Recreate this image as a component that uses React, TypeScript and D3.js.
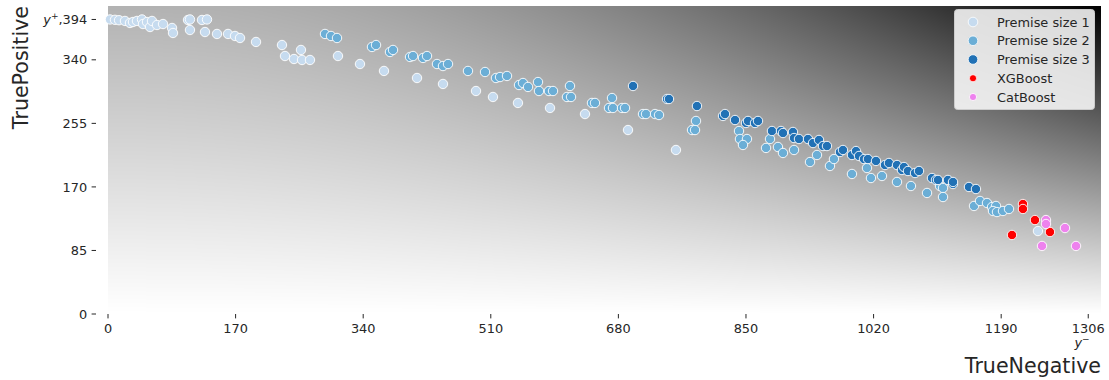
import React, { useMemo } from "react";
import * as d3 from "d3";

// ---- data (TrueNegative, TruePositive) ----
const size1TN = [2.7, 9.3, 14.7, 22.6, 29.3, 33.3, 38.6, 45.3, 46.6, 52, 56, 58.6, 65.3, 73.3, 85.3, 86.6, 106.6, 109.2, 109.2, 125.2, 131.9, 129.2, 145.2, 159.9, 169.2, 175.9, 197.2, 231.8, 235.8, 247.8, 257.1, 258.5, 269.1, 306.4, 335.7, 367.7, 411.7, 446.3, 490.3, 512.9, 546.2, 588.9, 635.5, 692.8, 756.7, 1239];
const size1TP = [394, 393.5, 393, 392, 389.3, 390.6, 392, 394, 387.9, 390.6, 383.9, 392, 386.6, 387.9, 382.6, 375.9, 393.3, 394, 379.9, 393.3, 394, 377.2, 374.6, 374.6, 371.9, 369.2, 363.9, 359.8, 345.1, 341.1, 353.2, 339.8, 339.8, 345.1, 334.4, 325.1, 315.7, 307.7, 298.3, 290.3, 282.3, 275.6, 267.5, 246.1, 219.4, 111];

const size2TN = [289.1, 297.1, 305.1, 351.7, 357.1, 375.7, 379.7, 402.4, 406.4, 419.7, 425, 438.3, 446.3, 453, 479.6, 502.3, 516.9, 522.3, 531.6, 547.6, 552.9, 559.6, 572.9, 574.2, 587.5, 592.9, 611.5, 616.9, 615.5, 644.8, 648.8, 671.5, 667.5, 672.8, 684.8, 688.8, 712.8, 716.8, 728.8, 734.1, 783.4, 778.1, 782.1, 840.7, 842, 851.3, 846, 882, 876.7, 892.6, 899.3, 914, 935.3, 944.6, 961.9, 967.2, 991.2, 1011.2, 1016.5, 1031.2, 1051.2, 1069.8, 1091.2, 1108.5, 1112.5, 1112.5, 1153.8, 1161.8, 1171.1, 1177.8, 1183.1, 1179.1, 1184.4, 1192.4, 1200.4];
const size2TP = [374.6, 371.9, 369.2, 357.2, 359.8, 350.5, 353.2, 343.8, 345.1, 342.5, 345.1, 334.4, 331.7, 334.4, 325.1, 323.7, 315.7, 317, 318.4, 306.3, 309, 303.7, 310.3, 298.3, 298.3, 298.3, 290.3, 290.3, 305, 282.3, 282.3, 288.9, 275.6, 275.6, 275.6, 275.6, 267.5, 267.5, 267.5, 266.2, 258.2, 246.1, 246.1, 244.8, 234.1, 234.1, 226.1, 234.1, 222.1, 223.4, 215.4, 219.4, 203.3, 212.7, 198, 207.3, 187.3, 195.3, 181.9, 184.6, 176.6, 171.2, 161.9, 171.2, 168.6, 156.5, 144.5, 151.2, 148.5, 143.1, 144.5, 137.8, 136.4, 137.8, 140.5];

const size3TN = [699.5, 744.8, 747.4, 784.7, 819.4, 822, 835.4, 850, 852.7, 862, 866, 884.6, 896.6, 899.3, 912.6, 914, 920.6, 932.6, 939.3, 947.3, 952.6, 957.9, 975.2, 979.2, 991.2, 996.6, 1000.6, 1007.2, 1012.5, 1023.2, 1035.2, 1040.5, 1051.2, 1057.8, 1060.5, 1065.8, 1075.2, 1080.5, 1097.8, 1103.1, 1105.8, 1119.1, 1125.8, 1125.8, 1147.1, 1156.4];
const size3TP = [305, 287.6, 287.6, 278.2, 264.9, 267.5, 259.5, 255.5, 258.2, 255.5, 258.2, 244.8, 244.8, 242.1, 243.5, 235.4, 234.1, 234.1, 228.7, 232.8, 224.7, 224.7, 216.7, 219.4, 212.7, 218, 211.4, 207.3, 207.3, 204.7, 199.3, 202, 199.3, 192.6, 196.6, 191.3, 188.6, 191.3, 181.9, 179.3, 179.3, 179.3, 173.9, 176.6, 169.9, 167.2];

const xgbTN = [1219, 1219, 1235, 1255, 1204.4];
const xgbTP = [147.1, 140.5, 125.7, 109.7, 105.7];

const catTN = [1249.7, 1249.7, 1275, 1244.4, 1289.7];
const catTP = [125.7, 120.4, 115, 91, 91];

const xTicks = [0, 170, 340, 510, 680, 850, 1020, 1190, 1306];
const yTicks = [0, 85, 170, 255, 340, 394];
const seriesNames = ["Premise size 1", "Premise size 2", "Premise size 3", "XGBoost", "CatBoost"];
const seriesColors = ["#c6dbef", "#6baed6", "#2171b5", "#ff0000", "#ee82ee"];

const W = 1109, H = 380;
const PL = 108, PR = 1101, PT = 6, PB = 314;
const FONT = "DejaVu Sans, sans-serif";
const TF = 12.9;

export default function App() {
  const x = d3.scaleLinear().domain([0, 1323]).range([PL, PR]);
  const y = d3.scaleLinear().domain([0, 412]).range([PB, PT]);

  const bg = useMemo(() => {
    const w = PR - PL, h = PB - PT;
    const c = document.createElement("canvas");
    c.width = w; c.height = h;
    const ctx = c.getContext("2d");
    if (!ctx) return "";
    const img = ctx.createImageData(w, h);
    for (let j = 0; j < h; j++) {
      const yf = 1 - j / (h - 1);
      for (let i = 0; i < w; i++) {
        const xf = i / (w - 1);
        const dark = yf * (0.3 + 0.7 * xf * xf);
        const v = Math.round(255 * (1 - dark));
        const k = (j * w + i) * 4;
        img.data[k] = v; img.data[k + 1] = v; img.data[k + 2] = v; img.data[k + 3] = 255;
      }
    }
    ctx.putImageData(img, 0, 0);
    return c.toDataURL();
  }, []);

  const series = [
    { tn: size1TN, tp: size1TP },
    { tn: size2TN, tp: size2TP },
    { tn: size3TN, tp: size3TP },
    { tn: xgbTN, tp: xgbTP },
    { tn: catTN, tp: catTP },
  ];

  return (
    <svg width={W} height={H} style={{ position: "absolute", left: 0, top: 0, background: "#fff" }} fontFamily={FONT}>
      {bg && <image href={bg} x={PL} y={PT} width={PR - PL} height={PB - PT} preserveAspectRatio="none" />}
      {series.map((s, si) => (
        <g key={si}>
          {s.tn.map((tn, i) => (
            <circle key={i} cx={x(tn)} cy={y(s.tp[i])} r={4.7} fill={seriesColors[si]} stroke="#fff" strokeWidth={0.9} />
          ))}
        </g>
      ))}
      {/* y axis */}
      <g>
        {yTicks.map((t) => (
          <g key={t}>
            <line x1={91.6} x2={96} y1={y(t)} y2={y(t)} stroke="#262626" strokeWidth={1} />
            {t === 394 ? (
              <text x={87.2} y={y(t) + 4.6} textAnchor="end" fontSize={TF} fill="#262626">
                <tspan fontStyle="italic">y</tspan>
                <tspan dy={-5} fontSize={9}>+</tspan>
                <tspan dy={5}>,394</tspan>
              </text>
            ) : (
              <text x={87.2} y={y(t) + 4.6} textAnchor="end" fontSize={TF} fill="#262626">{t}</text>
            )}
          </g>
        ))}
      </g>
      {/* x axis */}
      <g>
        {xTicks.map((t) => (
          <g key={t}>
            <line x1={x(t)} x2={x(t)} y1={PB} y2={PB + 4.4} stroke="#262626" strokeWidth={1} />
            <text x={x(t)} y={332.5} textAnchor="middle" fontSize={TF} fill="#262626">{t}</text>
          </g>
        ))}
        <text x={1082} y={347} textAnchor="middle" fontSize={TF} fill="#262626">
          <tspan fontStyle="italic">y</tspan>
          <tspan dy={-5} fontSize={9}>−</tspan>
        </text>
      </g>
      <text x={PR} y={373} textAnchor="end" fontSize={20.6} fill="#262626">TrueNegative</text>
      <text transform="translate(28.3,6) rotate(-90)" textAnchor="end" fontSize={20.6} fill="#262626">TruePositive</text>
      {/* legend */}
      <g>
        <rect x={954.5} y={9.5} width={140} height={100} rx={3} fill="#fff" fillOpacity={0.85} stroke="#cccccc" strokeWidth={1} />
        {seriesNames.map((n, i) => {
          const cy = 22 + i * 18.75;
          return (
            <g key={n}>
              <circle cx={973} cy={cy} r={i < 3 ? 4.8 : 3.6} fill={seriesColors[i]} stroke="#fff" strokeWidth={0.8} />
              <text x={997} y={cy + 4.6} fontSize={TF} fill="#262626">{n}</text>
            </g>
          );
        })}
      </g>
    </svg>
  );
}
